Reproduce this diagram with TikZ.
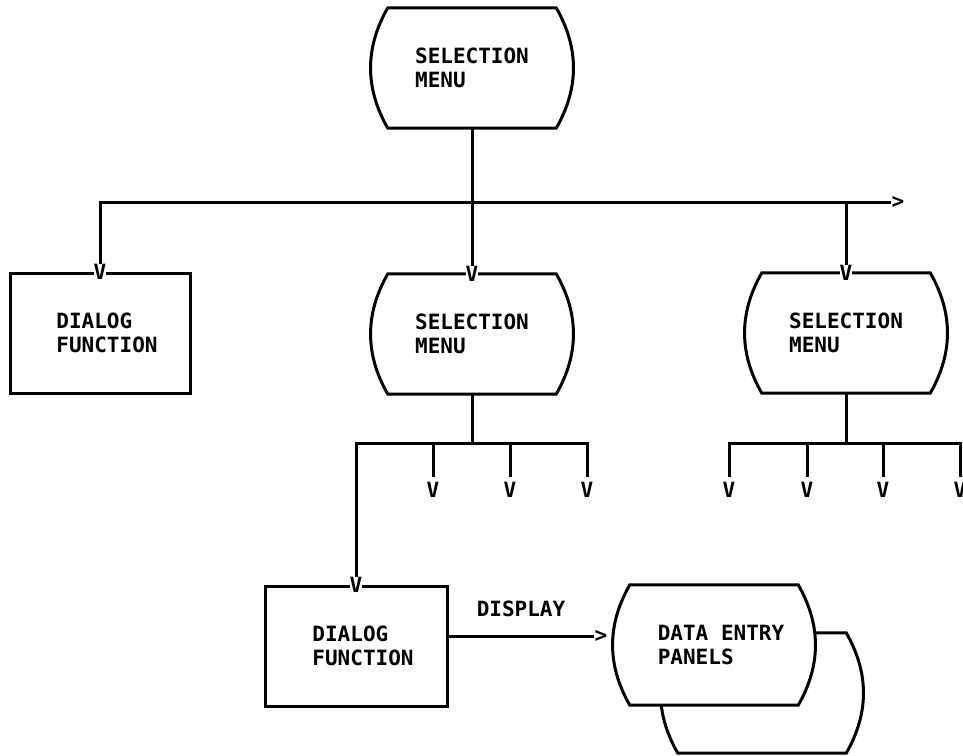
\documentclass[tikz,border=0pt]{standalone}
\usepackage{fontspec}
\newfontfamily\diagmono{DejaVu Sans Mono}
\usetikzlibrary{calc,backgrounds}
\newcommand\diagfont{\diagmono\bfseries\fontsize{21}{23.5}\selectfont}
% outline of a "display" symbol: flat top and bottom, bowed sides
\newcommand\dispoutline[1]{%
  \filldraw[ln, fill=white] (#1.north west) -- (#1.north east)
    .. controls ($(#1.north east)+(23,40)$) and ($(#1.south east)+(23,-40)$) .. (#1.south east)
    -- (#1.south west)
    .. controls ($(#1.south west)+(-23,-40)$) and ($(#1.north west)+(-23,40)$) .. (#1.north west)
    -- cycle;}
\tikzset{
  ln/.style={line width=3pt, line join=miter},
  txt/.style={font=\diagfont, align=left, inner sep=0pt},
  boxnode/.style={draw, ln, inner sep=0pt, minimum width=180pt, minimum height=120pt},
  dispnode/.style={txt, minimum width=168pt, minimum height=120pt},
  inside/.style={label={[txt, xshift=7pt]center:#1}},
  tipv/.style={font=\diagfont, inner sep=0pt, fill=white},
  tipr/.style={font=\diagfont, inner sep=0pt},
}
\begin{document}
\begin{tikzpicture}[x=1pt, y=-1pt]
\useasboundingbox (0,0) rectangle (963,755);

% shapes
\node[dispnode] (menuTop) at (472,68) {SELECTION\\MENU};
\node[dispnode] (menuMid) at (472,334) {SELECTION\\MENU};
\node[dispnode] (menuRight) at (846,333) {SELECTION\\MENU};
\node[boxnode, inside={DIALOG\\FUNCTION}] (dlgLeft) at (100,333) {};
\node[boxnode, minimum width=182pt, inside={DIALOG\\FUNCTION}] (dlgBottom) at (356,646) {};
\node[dispnode] (panelsBack) at (762,693) {};
\node[dispnode, inside={DATA ENTRY\\PANELS}] (panels) at (714,645) {};

\begin{pgfonlayer}{background}
  \fill[white] (0,0) rectangle (963,755);
  \dispoutline{menuTop}
  \dispoutline{menuMid}
  \dispoutline{menuRight}
  \dispoutline{panelsBack}
  \dispoutline{panels}
\end{pgfonlayer}

% arrow tips set as characters
\node[tipv] (tA) at (dlgLeft.north) {V};
\node[tipv] (tB) at (menuMid.north) {V};
\node[tipv] (tC) at (menuRight.north) {V};
\node[tipv] (tD) at (dlgBottom.north) {V};
\node[tipr] (tBus) at (898,202) {>};
\node[tipr] (tDisp) at (601,636) {>};
\node[tipv] (tM1) at (433,490) {V};
\node[tipv] (tM2) at (510,490) {V};
\node[tipv] (tM3) at (587,490) {V};
\node[tipv] (tR1) at (729,490) {V};
\node[tipv] (tR2) at (807,490) {V};
\node[tipv] (tR3) at (883,490) {V};
\node[tipv] (tR4) at (960,490) {V};

% junction points
\coordinate (jTop) at (472,202);
\coordinate (jRight) at (846,202);
\coordinate (mJ) at (472,443);
\coordinate (m1) at (433,443);
\coordinate (m2) at (510,443);
\coordinate (m3) at (587,443);
\coordinate (rJ) at (846,443);
\coordinate (r2) at (807,443);
\coordinate (r3) at (883,443);
\coordinate (r4) at (960,443);

% top level bus
\draw[ln] (menuTop.south) -- (jTop);
\draw[ln] (tA.north) |- (tBus.west);
\draw[ln] (jTop) -- (tB.north);
\draw[ln] (jRight) -- (tC.north);

% middle menu branches
\draw[ln] (menuMid.south) -- (mJ);
\draw[ln] (tD.north) |- (m3) -- ([yshift=5pt]tM3.north);
\draw[ln] (m1) -- ([yshift=5pt]tM1.north);
\draw[ln] (m2) -- ([yshift=5pt]tM2.north);

% right menu branches
\draw[ln] (menuRight.south) -- (rJ);
\draw[ln] ([yshift=5pt]tR1.north) |- (r4) -- ([yshift=5pt]tR4.north);
\draw[ln] (r2) -- ([yshift=5pt]tR2.north);
\draw[ln] (r3) -- ([yshift=5pt]tR3.north);

% display link
\draw[ln] (dlgBottom.east |- tDisp) -- (tDisp.west);
\node[txt] (lblDisplay) at (521,609) {DISPLAY};
\end{tikzpicture}
\end{document}
